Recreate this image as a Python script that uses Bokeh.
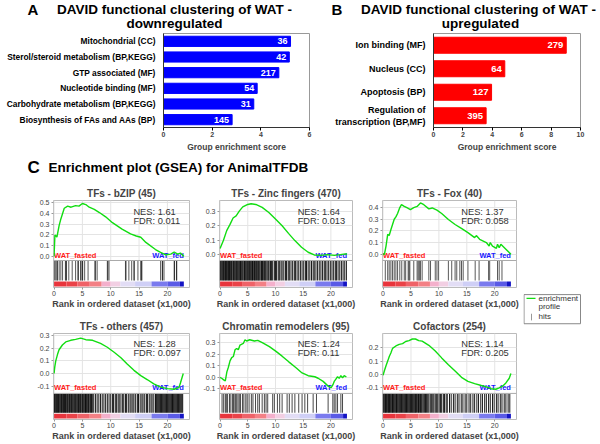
from math import pi
from bokeh.plotting import figure
from bokeh.models import (Range1d, FactorRange, FixedTicker, PrintfTickFormatter,
                          Span, Label, GridBox)
from bokeh.layouts import row, column
from bokeh.core.properties import value
from bokeh.embed import file_html
from bokeh.resources import INLINE

FONT = "Liberation Sans"

# ---------------- Panel A / B data ----------------
a_cats = ["Mitochondrial (CC)", "Sterol/steroid metabolism (BP,KEGG)", "GTP associated (MF)",
          "Nucleotide binding (MF)", "Carbohydrate metabolism (BP,KEGG)",
          "Biosynthesis of FAs and AAs (BP)"]
a_scores = [5.22, 5.17, 4.74, 3.85, 3.71, 2.82]
a_counts = ["36", "42", "217", "54", "31", "145"]
a_ticks = [0, 2, 4, 6]

b_cats = ["Ion binding (MF)", "Nucleus (CC)", "Apoptosis (BP)", "Regulation of\ntranscription (BP,MF)"]
b_scores = [9.03, 4.85, 3.95, 3.58]
b_counts = ["279", "64", "127", "395"]
b_ticks = [0, 2, 4, 6, 8, 10]

# ---------------- Panel C data ----------------
gsea_titles = ["TFs - bZIP (45)", "TFs - Zinc fingers (470)", "TFs - Fox (40)",
               "TFs - others (457)", "Chromatin remodelers (95)", "Cofactors (254)"]
gsea_nes = ["1.61", "1.64", "1.37", "1.28", "1.24", "1.14"]
gsea_fdr = ["0.011", "0.013", "0.058", "0.097", "0.11", "0.205"]
rank_ticks = [0, 5, 10, 15, 20]
n_ranks = 22.9

bzip_x = [0, 0.15, 0.5, 0.9, 1.2, 1.8, 2.4, 3.0, 3.8, 4.4, 5.0, 5.6, 6.2, 7.1, 8.0, 9.1, 10.3,
          12.0, 13.5, 14.5, 15.3, 16.2, 17.9, 18.8, 19.7, 20.6, 21.2, 21.8, 22.3, 22.9]
bzip_es = [0, 0.20, 0.18, 0.29, 0.35, 0.45, 0.47, 0.46, 0.475, 0.47, 0.495, 0.485, 0.46, 0.44,
           0.41, 0.37, 0.315, 0.255, 0.21, 0.19, 0.178, 0.13, 0.063, 0.037, 0.013, 0.02, 0.04,
           0.02, 0.03, 0.0]
bzip_hits = [0.1, 0.3, 0.5, 0.6, 0.9, 1.2, 1.5, 2.0, 2.1, 2.2, 2.6, 3.2, 3.8, 4.2, 4.3, 4.7, 4.75,
             5.0, 5.05, 5.4, 6.0, 7.2, 7.3, 7.6, 9.4, 9.5, 9.7, 12.6, 12.7, 13.2, 13.7, 14.1,
             14.15, 14.8, 15.3, 15.4, 15.5, 18.8, 19.1, 19.15, 19.4, 21.2, 21.25, 21.6, 21.65]

zinc_x = [0, 0.6, 1.2, 1.8, 2.35, 2.9, 3.5, 4.1, 5.0, 5.6, 6.45, 7.6, 8.8, 10.0, 11.2, 12.35,
          13.5, 14.7, 15.9, 17.0, 18.2, 19.4, 20.6, 21.7, 22.6, 22.9]
zinc_es = [0.04, 0.096, 0.166, 0.21, 0.255, 0.27, 0.305, 0.333, 0.35, 0.355, 0.35, 0.33, 0.294,
           0.248, 0.2, 0.147, 0.096, 0.049, 0.014, -0.005, -0.008, -0.003, -0.008, -0.003,
           0.003, 0.0]
zinc_hits = [0.05, 0.2, 0.35, 0.5, 0.6, 0.75, 0.9, 1.0, 1.15, 1.3, 1.45, 1.55, 1.7, 1.85, 2.0,
             2.1, 2.3, 2.45, 2.55, 2.7, 2.85, 3.0, 3.1, 3.25, 3.4, 3.55, 3.7, 3.8, 3.95, 4.1,
             4.3, 4.4, 4.55, 4.7, 4.85, 5.0, 5.1, 5.3, 5.45, 5.6, 5.75, 5.85, 6.0, 6.2, 6.3,
             6.45, 6.6, 6.8, 6.9, 7.05, 7.2, 7.4, 7.5, 7.65, 7.8, 8.0, 8.15, 8.3, 8.5, 8.7,
             8.85, 9.1, 9.3, 9.5, 9.8, 10.0, 10.2, 10.5, 10.7, 11.0, 11.2, 11.5, 11.8, 12.0,
             12.3, 12.5, 12.8, 13.1, 13.4, 13.6, 13.9, 14.2, 14.5, 14.8, 15.1, 15.4, 15.6,
             15.9, 16.2, 16.5, 16.8, 17.0, 17.3, 17.6, 17.9, 18.2, 18.5, 18.8, 19.0, 19.3,
             19.6, 19.9, 20.2, 20.5, 20.8, 21.0, 21.3, 21.6, 21.9, 22.2, 22.5, 22.8]

fox_x = [0, 0.25, 0.53, 0.83, 1.1, 1.4, 1.7, 2.0, 2.3, 2.6, 3.0, 3.3, 3.8, 4.35, 4.9, 5.5, 6.1,
         6.7, 7.3, 8.2, 8.8, 9.65, 10.5, 11.7, 12.9, 14.1, 15.2, 16.4, 16.7, 17.3, 18.5, 19.0,
         19.2, 19.6, 20.3, 20.5, 20.8, 21.1, 22.0, 22.9]
fox_es = [0, 0.0, 0.07, 0.17, 0.16, 0.21, 0.255, 0.30, 0.32, 0.35, 0.40, 0.425, 0.41, 0.397,
          0.383, 0.40, 0.41, 0.44, 0.425, 0.389, 0.397, 0.378, 0.349, 0.298, 0.255, 0.219,
          0.185, 0.142, 0.16, 0.128, 0.10, 0.071, 0.10, 0.07, 0.05, 0.085, 0.057, 0.085,
          0.043, 0.0]
fox_hits = [0.4, 0.83, 1.1, 1.4, 1.7, 2.0, 2.3, 2.6, 3.0, 3.35, 3.8, 4.05, 4.5, 4.65, 4.8, 5.5,
            6.1, 6.3, 6.5, 6.7, 7.0, 8.2, 8.5, 9.35, 9.65, 9.95, 11.7, 12.3, 12.9, 13.2, 13.75,
            14.05, 14.35, 15.2, 16.5, 17.2, 18.9, 19.1, 20.5, 20.8, 21.3]

others_x = [0, 0.12, 0.3, 0.6, 0.88, 1.47, 2.06, 2.94, 3.8, 4.7, 5.6, 6.8, 8.2, 9.4, 10.6, 11.8,
            12.9, 14.1, 15.3, 16.5, 17.6, 18.8, 20.0, 21.2, 21.8, 22.05, 22.3, 22.8]
others_es = [0, 0.05, 0.1, 0.15, 0.188, 0.226, 0.25, 0.263, 0.27, 0.28, 0.268, 0.263, 0.238,
             0.208, 0.168, 0.125, 0.075, 0.025, -0.017, -0.05, -0.083, -0.108, -0.12, -0.125,
             -0.115, -0.11, -0.075, 0.0]
others_hits = [0.05, 0.15, 0.3, 0.4, 0.55, 0.65, 0.8, 0.9, 1.05, 1.2, 1.3, 1.45, 1.6, 1.7,
               1.85, 2.0, 2.1, 2.25, 2.4, 2.5, 2.7, 2.8, 2.95, 3.1, 3.2, 3.35, 3.5, 3.65, 3.75,
               3.9, 4.05, 4.2, 4.3, 4.45, 4.6, 4.7, 4.9, 5.0, 5.15, 5.3, 5.45, 5.55, 5.7, 5.85,
               6.0, 6.1, 6.3, 6.45, 6.6, 6.75, 7.0, 7.3, 7.6, 7.9, 8.2, 8.5, 8.8, 9.1, 9.4,
               9.7, 10.0, 10.3, 10.5, 10.8, 11.0, 11.3, 11.5, 11.8, 12.1, 12.3, 12.6, 12.8,
               13.1, 13.4, 13.6, 13.9, 14.1, 14.4, 14.7, 14.9, 15.2, 15.5, 15.7, 16.0, 16.3,
               16.5, 16.8, 17.1, 17.3, 17.6, 17.9, 18.05, 18.2, 18.35, 18.5, 18.65, 18.8,
               18.95, 19.1, 19.25, 19.4, 19.55, 19.7, 19.85, 20.0, 20.15, 20.3, 20.45, 20.6,
               20.75, 20.9, 21.05, 21.2, 21.35, 21.5, 21.65, 21.8, 21.95, 22.1, 22.25, 22.4,
               22.55, 22.7]

chrom_x = [0, 0.35, 0.65, 0.95, 1.23, 1.5, 1.8, 2.1, 2.4, 2.7, 3.0, 3.3, 3.6, 4.2, 4.5, 4.8,
           5.35, 6.2, 6.8, 7.7, 8.9, 10.1, 11.2, 12.4, 13.6, 14.8, 15.9, 17.1, 17.7, 18.6, 19.5,
           20.05, 20.35, 20.6, 20.9, 21.2, 21.5, 21.8, 22.1, 22.4, 22.8]
chrom_es = [0, -0.01, -0.022, -0.03, 0.047, 0.087, 0.142, 0.17, 0.18, 0.238, 0.25, 0.238, 0.279,
            0.293, 0.325, 0.314, 0.325, 0.314, 0.32, 0.298, 0.265, 0.224, 0.183, 0.134, 0.087,
            0.038, 0.014, 0.005, -0.008, -0.035, -0.076, -0.09, -0.066, -0.035, -0.015, 0.005,
            -0.008, 0.014, -0.003, 0.014, 0.003]
chrom_hits = [0.36, 0.65, 0.95, 1.13, 1.36, 1.71, 1.95, 2.3, 2.35, 2.53, 2.77, 3.0, 3.24, 3.47,
              3.7, 4.06, 4.3, 4.65, 4.9, 5.24, 5.65, 5.94, 6.4, 6.8, 7.1, 7.6, 8.0, 8.3, 8.6,
              9.5, 9.8, 10.35, 10.76, 11.2, 12.1, 12.5, 13.0, 13.5, 14.2, 14.8, 15.3, 15.8,
              16.8, 17.4, 19.5, 20.35, 20.6, 20.9, 21.2, 21.8, 22.1]

cof_x = [0, 0.25, 0.53, 0.83, 1.13, 1.4, 1.7, 2.3, 2.9, 3.5, 4.05, 4.65, 5.25, 5.8, 6.4, 7.0,
         8.2, 9.35, 10.5, 11.7, 12.9, 14.05, 15.2, 16.4, 17.6, 18.5, 19.35, 20.2, 20.8, 21.4,
         22.0, 22.6, 22.9]
cof_es = [-0.005, 0.03, 0.066, 0.1, 0.136, 0.16, 0.195, 0.213, 0.225, 0.23, 0.246, 0.253, 0.265,
          0.265, 0.253, 0.249, 0.218, 0.176, 0.124, 0.073, 0.026, -0.021, -0.051, -0.068,
          -0.082, -0.092, -0.106, -0.11, -0.099, -0.087, -0.063, -0.028, 0.007]
cof_hits = [0.05, 0.2, 0.35, 0.45, 0.6, 0.75, 0.9, 1.0, 1.15, 1.3, 1.45, 1.6, 1.7, 1.85, 2.0,
            2.15, 2.3, 2.4, 2.55, 2.7, 2.85, 3.0, 3.1, 3.3, 3.45, 3.6, 3.75, 3.9, 4.0, 4.2,
            4.35, 4.5, 4.65, 4.8, 4.9, 5.1, 5.25, 5.4, 5.55, 5.7, 5.8, 6.0, 6.2, 6.35, 6.5,
            6.7, 6.85, 7.0, 7.2, 7.4, 7.6, 7.8, 8.0, 8.2, 8.45, 8.65, 8.9, 9.1, 9.35, 9.6, 9.8,
            10.05, 10.3, 10.5, 10.8, 11.0, 11.3, 11.5, 11.9, 12.2, 12.6, 12.9, 13.3, 13.6,
            14.0, 14.3, 14.7, 15.0, 15.4, 15.7, 16.1, 16.4, 16.8, 17.1, 17.5, 17.8, 18.2,
            18.5, 18.9, 19.2, 19.6, 19.9, 20.3, 20.6, 21.0, 21.3, 21.7, 22.0, 22.4, 22.7]

curves_x = [bzip_x, zinc_x, fox_x, others_x, chrom_x, cof_x]
curves_es = [bzip_es, zinc_es, fox_es, others_es, chrom_es, cof_es]
hits = [bzip_hits, zinc_hits, fox_hits, others_hits, chrom_hits, cof_hits]
es_ticks = [[0, 0.1, 0.2, 0.3, 0.4, 0.5], [0, 0.1, 0.2, 0.3], [0, 0.1, 0.2, 0.3, 0.4],
            [-0.1, 0, 0.1, 0.2, 0.3], [-0.1, 0, 0.1, 0.2, 0.3], [-0.1, 0, 0.1, 0.2]]
es_lims = [(-0.040, 0.523), (-0.044, 0.378), (-0.054, 0.461),
           (-0.158, 0.317), (-0.139, 0.379), (-0.141, 0.306)]
hit_alpha = [0.65, 0.9, 0.65, 0.9, 0.72, 0.9]

# ranked-list metric colour strip (x1,000 ranks)
cb_edges = [0, 2.2, 4.1, 6.3, 8.4, 10.0, 11.7, 14.3, 17.2, 20.0, 22.2, 22.9]
cb_colors = ["#e8343c", "#ea4248", "#ef6268", "#f38085", "#f4b0cc", "#f2cfe3", "#e2ddf5",
             "#cfcff6", "#7a7aee", "#5a5ae6", "#1414c4"]


def canvas(w, h):
    p = figure(width=w, height=h, x_range=Range1d(0, w), y_range=Range1d(0, h),
               x_axis_type=None, y_axis_type=None, title=None, min_border=0,
               toolbar_location=None, output_backend="svg")
    p.outline_line_color = None
    return p


def txt(p, x, y, s, size, bold=True, align="left", color="black"):
    p.text(x=[x], y=[y], text=[s], text_font=value(FONT), text_font_size=size,
           text_font_style="bold" if bold else "normal", text_align=align,
           text_baseline="middle", text_color=color)


# ---------------- header A/B (32 px tall) ----------------
h1 = canvas(600, 32)
txt(h1, 27, 23, "A", "15px")
txt(h1, 174, 23, "DAVID functional clustering of WAT -", "13.5px", align="center")
txt(h1, 174, 9.5, "downregulated", "13.5px", align="center")
txt(h1, 331, 23, "B", "15px")
txt(h1, 478, 23, "DAVID functional clustering of WAT -", "13.5px", align="center")
txt(h1, 480, 9.5, "upregulated", "13.5px", align="center")


def bars(cats, vals, counts, ticks, xmax, color, width, bl, br, lab_size, val_size, bh):
    p = figure(width=width, height=122, y_range=FactorRange(factors=cats[::-1]),
               x_range=Range1d(0, xmax), min_border_left=bl, min_border_right=br,
               min_border_top=1, min_border_bottom=25, title=None,
               toolbar_location=None, output_backend="svg")
    p.hbar(y=cats, left=0, right=vals, height=bh, fill_color=color, line_color=color)
    p.text(x=vals, y=cats, text=counts, x_offset=-3, text_align="right",
           text_baseline="middle", text_color="white", text_font=value(FONT),
           text_font_style="bold", text_font_size=val_size)
    p.grid.visible = False
    p.outline_line_color = "#999999"
    ya = p.yaxis[0]
    ya.major_tick_line_color = None
    ya.minor_tick_line_color = None
    ya.major_label_standoff = 2
    ya.axis_line_color = "#333333"
    ya.major_label_text_font = FONT
    ya.major_label_text_font_style = "bold"
    ya.major_label_text_font_size = lab_size
    ya.major_label_text_color = "black"
    xa = p.xaxis[0]
    xa.ticker = FixedTicker(ticks=ticks)
    xa.major_tick_out = 3
    xa.major_tick_in = 0
    xa.minor_tick_line_color = None
    xa.major_label_standoff = 1
    xa.major_label_text_font = FONT
    xa.major_label_text_font_style = "bold"
    xa.major_label_text_font_size = "7px"
    xa.axis_line_color = "#333333"
    xa.axis_label = "Group enrichment score"
    xa.axis_label_text_font = FONT
    xa.axis_label_text_font_style = "bold"
    xa.axis_label_text_font_size = "8.5px"
    xa.axis_label_standoff = 2
    return p


figA = bars(a_cats, a_scores, a_counts, a_ticks, 6, "#0000ff", 315, 163, 6, "8.4px", "9px", 0.65)
figB = bars(b_cats, b_scores, b_counts, b_ticks, 10, "#ff0000", 285, 118, 20, "9px", "9.5px", 0.68)

# ---------------- header C ----------------
h2 = canvas(600, 26)
txt(h2, 27, 13, "C", "17px")
txt(h2, 48, 13, "Enrichment plot (GSEA) for AnimalTFDB", "13.5px")

STRIP = 27


def gsea(k, width, height, bl, br, bt, bb, ylabel):
    fh = height - bt - bb
    lo, hi = es_lims[k]
    ext = (hi - lo) * STRIP / (fh - STRIP)
    p = figure(width=width, height=height, x_range=Range1d(-0.1, 23.9),
               y_range=Range1d(lo - ext, hi), min_border_left=bl, min_border_right=br,
               min_border_top=bt, min_border_bottom=bb, title=gsea_titles[k],
               toolbar_location=None, output_backend="svg")
    p.extra_y_ranges = {"px": Range1d(0, fh)}
    p.title.align = "center"
    p.title.text_font = FONT
    p.title.text_font_size = "10px"
    p.title.text_font_style = "bold"
    p.title.standoff = 3
    p.outline_line_color = "#bbbbbb"
    p.xgrid.visible = False
    p.ygrid.grid_line_color = "#e4e4e4"
    n = len(rank_ticks)
    p.segment(x0=rank_ticks, y0=[lo] * n, x1=rank_ticks, y1=[hi] * n, line_color="#e4e4e4")
    # colour strip and hits
    p.quad(left=cb_edges[:-1], right=cb_edges[1:], bottom=1, top=6, y_range_name="px",
           fill_color=cb_colors, line_color=None)
    hh = hits[k]
    p.segment(x0=hh, y0=[7] * len(hh), x1=hh, y1=[STRIP - 0.5] * len(hh), y_range_name="px",
              line_color="black", line_alpha=hit_alpha[k], line_width=1)
    p.add_layout(Span(location=STRIP, dimension="width", y_range_name="px",
                      line_color="#aaaaaa", line_width=1))
    p.text(x=[0], y=[STRIP + 1], text=["WAT_fasted"], y_range_name="px",
           text_font=value(FONT), text_font_size="7.5px", text_font_style="bold",
           text_color="#ff1a1a", text_baseline="bottom", text_align="left")
    p.text(x=[n_ranks], y=[STRIP + 1], text=["WAT_fed"], y_range_name="px",
           text_font=value(FONT), text_font_size="7.5px", text_font_style="bold",
           text_color="#1a1aff", text_baseline="bottom", text_align="right")
    p.text(x=[14.0, 14.0], y=[fh - 11, fh - 20.5],
           text=["NES: " + gsea_nes[k], "FDR: " + gsea_fdr[k]], y_range_name="px",
           text_font=value(FONT), text_font_size="9.3px", text_color="#333333",
           text_baseline="middle", text_align="left")
    p.line(curves_x[k], curves_es[k], line_color="#11dd11", line_width=1.4)
    xa = p.xaxis[0]
    xa.ticker = FixedTicker(ticks=rank_ticks)
    xa.axis_line_color = None
    xa.major_tick_out = 2
    xa.major_tick_in = 0
    xa.major_tick_line_color = "#999999"
    xa.minor_tick_line_color = None
    xa.major_label_standoff = 1
    xa.major_label_text_font = FONT
    xa.major_label_text_font_size = "7px"
    xa.major_label_text_color = "#444444"
    xa.axis_label = "Rank in ordered dataset (x1,000)"
    xa.axis_label_text_font = FONT
    xa.axis_label_text_font_size = "9px"
    xa.axis_label_text_font_style = "bold"
    xa.axis_label_standoff = 0
    ya = p.yaxis[0]
    ya.ticker = FixedTicker(ticks=es_ticks[k])
    ya.formatter = PrintfTickFormatter(format="%.1f")
    ya.axis_line_color = None
    ya.major_tick_out = 2
    ya.major_tick_in = 0
    ya.major_tick_line_color = "#999999"
    ya.minor_tick_line_color = None
    ya.major_label_standoff = 2
    ya.major_label_text_font = FONT
    ya.major_label_text_font_size = "7px"
    ya.major_label_text_color = "#444444"
    if ylabel:
        p.add_layout(Label(x=-0.1, y=(lo + hi) / 2, x_offset=-21, text="Enrichment score",
                           angle=pi / 2, text_align="center", text_baseline="middle",
                           text_font=FONT, text_font_size="9px", text_font_style="bold",
                           text_color="black"))
    return p


g1 = gsea(0, 200, 132, 53, 11, 20, 25, True)
g2 = gsea(1, 163, 132, 16, 11, 20, 25, False)
g3 = gsea(2, 160, 132, 17, 7, 20, 25, False)
g4 = gsea(3, 200, 131, 53, 11, 21, 21, True)
g5 = gsea(4, 163, 131, 16, 11, 21, 21, False)
g6 = gsea(5, 160, 131, 17, 7, 21, 21, False)

leg = canvas(77, 263)
leg.quad(left=[0.5], right=[57], bottom=[115], top=[150], fill_color=None, line_color="#888888")
leg.segment(x0=[3], y0=[145.5], x1=[12], y1=[145.5], line_color="#11dd11", line_width=1.4)
leg.segment(x0=[8], y0=[119], x1=[8], y1=[127], line_color="#999999", line_width=1)
txt(leg, 15, 145, "enrichment", "8px", bold=False, color="#333333")
txt(leg, 15, 136, "profile", "8px", bold=False, color="#333333")
txt(leg, 15, 123.5, "hits", "8px", bold=False, color="#333333")

grid = GridBox(children=[(g1, 0, 0), (g2, 0, 1), (g3, 0, 2), (g4, 1, 0), (g5, 1, 1),
                         (g6, 1, 2), (leg, 0, 3, 2, 1)])

layout = column(h1, row(figA, figB), h2, grid)
open("out.html", "w").write(file_html(layout, INLINE))
